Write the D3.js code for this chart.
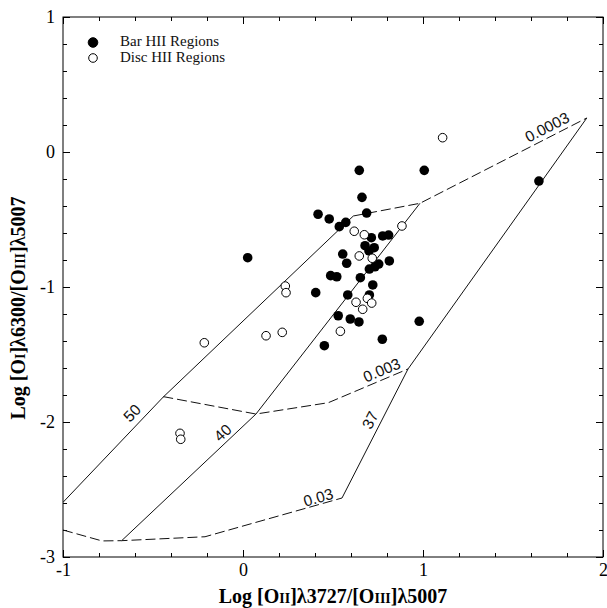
<!DOCTYPE html>
<html>
<head>
<meta charset="utf-8">
<script src="https://cdn.jsdelivr.net/npm/d3@7"></script>
<style>
  html, body { margin: 0; padding: 0; background: #fff; }
  svg { display: block; }
</style>
</head>
<body>
<svg id="chart" width="607" height="608"></svg>
<script>
// Bar HII regions (filled symbols): [log OII/OIII, log OI/OIII]
const barRegions = [
  [0.646, -0.136], [1.007, -0.136], [0.661, -0.336], [0.417, -0.461],
  [0.479, -0.496], [0.687, -0.452], [0.571, -0.521], [0.535, -0.553],
  [0.713, -0.635], [0.776, -0.622], [0.809, -0.615], [0.678, -0.694],
  [0.729, -0.709], [0.700, -0.733], [1.644, -0.215], [0.554, -0.756],
  [0.576, -0.824], [0.813, -0.807], [0.754, -0.830], [0.733, -0.850],
  [0.702, -0.867], [0.487, -0.916], [0.521, -0.924], [0.652, -0.931],
  [0.721, -0.985], [0.404, -1.042], [0.582, -1.059], [0.702, -1.059],
  [0.529, -1.213], [0.596, -1.237], [0.644, -1.259], [0.979, -1.254],
  [0.774, -1.387], [0.452, -1.435], [0.026, -0.783]
];

// Disc HII regions (open symbols)
const discRegions = [
  [1.109, 0.106], [0.883, -0.548], [0.618, -0.587], [0.674, -0.613],
  [0.646, -0.770], [0.718, -0.787], [0.235, -0.993], [0.239, -1.042],
  [0.691, -1.084], [0.628, -1.113], [0.715, -1.119], [0.665, -1.165],
  [0.218, -1.336], [0.128, -1.361], [0.541, -1.328], [-0.215, -1.413],
  [-0.350, -2.084], [-0.346, -2.128]
];

// Model grid: lines of constant temperature (solid)
const tempLines = [
  { label: "50", pts: [[-1.0, -2.595], [-0.443, -1.815], [0.613, -0.474]] },
  { label: "40", pts: [[-0.674, -2.879], [0.072, -1.941], [0.983, -0.380]] },
  { label: "37", pts: [[0.55, -2.563], [0.917, -1.607], [1.91, 0.252]] }
];

// Model grid: lines of constant parameter (dashed)
const paramLines = [
  { label: "0.0003", pts: [[0.613, -0.474], [0.983, -0.380], [1.91, 0.252]] },
  { label: "0.003", pts: [[-0.443, -1.812], [0.072, -1.941], [0.474, -1.857], [0.917, -1.607]] },
  { label: "0.03", pts: [[-1.0, -2.80], [-0.783, -2.881], [-0.674, -2.879], [-0.211, -2.85], [0.55, -2.563]] }
];

// Grid annotations: text, anchor in data units, rotation
const gridLabels = [
  { text: "50", at: [-0.617, -1.933], angle: -46 },
  { text: "40", at: [-0.113, -2.079], angle: -43 },
  { text: "37", at: [0.706, -1.985], angle: -63 },
  { text: "0.0003", at: [1.689, 0.185], angle: -27 },
  { text: "0.003", at: [0.771, -1.615], angle: -23 },
  { text: "0.03", at: [0.418, -2.558], angle: -16 }
];

const xMajor = [-1, 0, 1, 2];
const yMajor = [1, 0, -1, -2, -3];
const xMinor = d3.range(-1, 2.001, 0.2).map(v => +v.toFixed(1));
const yMinor = d3.range(-3, 1.001, 0.2).map(v => +v.toFixed(1));

const legendItems = [
  { text: "Bar HII Regions", filled: true },
  { text: "Disc HII Regions", filled: false }
];

const W = 607, H = 608;
const margin = { top: 17, right: 4, bottom: 51, left: 63 };
const svg = d3.select("#chart");

const x = d3.scaleLinear().domain([-1, 2]).range([margin.left, W - margin.right]);
const y = d3.scaleLinear().domain([-3, 1]).range([H - margin.bottom, margin.top]);

const serif = "'Liberation Serif', 'Times New Roman', Times, serif";
const sans = "'Liberation Sans', Arial, Helvetica, sans-serif";

// Clip grid lines to plot area
svg.append("defs").append("clipPath").attr("id", "plot-clip")
  .append("rect")
  .attr("x", x(-1)).attr("y", y(1))
  .attr("width", x(2) - x(-1)).attr("height", y(-3) - y(1));

// Axes with inward ticks on all four sides
function addAxis(axisFn, scale, ticks, size, transform, labelled) {
  const ax = axisFn(scale).tickValues(ticks).tickSizeInner(-size).tickSizeOuter(0)
    .tickPadding(8);
  if (!labelled) ax.tickFormat("");
  const g = svg.append("g").attr("transform", transform).call(ax);
  g.selectAll(".domain").remove();
  g.selectAll("line").attr("stroke", "#000").attr("stroke-width", 1);
  g.selectAll("text").attr("fill", "#000").style("font-family", serif).style("font-size", "18px");
  return g;
}
const bottomY = y(-3), topY = y(1), leftX = x(-1), rightX = x(2);

addAxis(d3.axisBottom, x, xMinor, 4, `translate(0,${bottomY})`, false);
addAxis(d3.axisTop, x, xMinor, 4, `translate(0,${topY})`, false);
addAxis(d3.axisLeft, y, yMinor, 4, `translate(${leftX},0)`, false);
addAxis(d3.axisRight, y, yMinor, 4, `translate(${rightX},0)`, false);

const xLab = addAxis(d3.axisBottom, x, xMajor, 7, `translate(0,${bottomY})`, true);
xLab.selectAll("text").text(d => d3.format("d")(d).replace("−", "-")).attr("dy", "0.71em").attr("y", 6);
addAxis(d3.axisTop, x, xMajor, 7, `translate(0,${topY})`, false);
const yLab = addAxis(d3.axisLeft, y, yMajor, 7, `translate(${leftX},0)`, true);
yLab.selectAll("text").text(d => d3.format("d")(d).replace("−", "-")).attr("x", -8);
addAxis(d3.axisRight, y, yMajor, 7, `translate(${rightX},0)`, false);

// Frame
svg.append("rect")
  .attr("x", leftX).attr("y", topY)
  .attr("width", rightX - leftX).attr("height", bottomY - topY)
  .attr("fill", "none").attr("stroke", "#000").attr("stroke-width", 1);

// Grid lines
const line = d3.line().x(d => x(d[0])).y(d => y(d[1]));
const grid = svg.append("g").attr("clip-path", "url(#plot-clip)");
grid.selectAll(".temp").data(tempLines).join("path")
  .attr("d", d => line(d.pts))
  .attr("fill", "none").attr("stroke", "#111").attr("stroke-width", 1);
grid.selectAll(".param").data(paramLines).join("path")
  .attr("d", d => line(d.pts))
  .attr("fill", "none").attr("stroke", "#111").attr("stroke-width", 1)
  .attr("stroke-dasharray", "10,4");

// Grid annotations
svg.append("g").selectAll("text").data(gridLabels).join("text")
  .attr("transform", d => `translate(${x(d.at[0])},${y(d.at[1])}) rotate(${d.angle})`)
  .attr("text-anchor", "middle").attr("dominant-baseline", "central")
  .style("font-family", sans).style("font-size", "15.5px").attr("fill", "#111")
  .text(d => d.text);

// Data points
const R = 4.8;
svg.append("g").selectAll("circle").data(barRegions).join("circle")
  .attr("cx", d => x(d[0])).attr("cy", d => y(d[1])).attr("r", R)
  .attr("fill", "#000");
svg.append("g").selectAll("circle").data(discRegions).join("circle")
  .attr("cx", d => x(d[0])).attr("cy", d => y(d[1])).attr("r", R - 0.5)
  .attr("fill", "#fff").attr("stroke", "#000").attr("stroke-width", 1);

// Legend
const leg = svg.append("g");
legendItems.forEach((item, i) => {
  const cy = 42.5 + i * 15.5;
  leg.append("circle").attr("cx", 93).attr("cy", cy).attr("r", item.filled ? 4.8 : 4.3)
    .attr("fill", item.filled ? "#000" : "#fff").attr("stroke", "#000").attr("stroke-width", 1);
  leg.append("text").attr("x", 120).attr("y", cy + 3.5)
    .style("font-family", serif).style("font-size", "15px").attr("fill", "#111")
    .text(item.text);
});

// Axis titles (ionisation stages set in small capitals)
function title(sel, parts) {
  parts.forEach(p => {
    sel.append("tspan").text(p.t).style("font-size", p.small ? "14px" : null);
  });
}
const xTitle = svg.append("text")
  .attr("x", (leftX + rightX) / 2).attr("y", 603)
  .attr("text-anchor", "middle")
  .style("font-family", serif).style("font-size", "20px").style("font-weight", "bold");
title(xTitle, [{ t: "Log [O" }, { t: "II", small: true }, { t: "]λ3727/[O" }, { t: "III", small: true }, { t: "]λ5007" }]);

const yTitle = svg.append("text")
  .attr("transform", `translate(25,308) rotate(-90)`)
  .attr("text-anchor", "middle")
  .style("font-family", serif).style("font-size", "20px").style("font-weight", "bold");
title(yTitle, [{ t: "Log [O" }, { t: "I", small: true }, { t: "]λ6300/[O" }, { t: "III", small: true }, { t: "]λ5007" }]);
</script>
</body>
</html>
